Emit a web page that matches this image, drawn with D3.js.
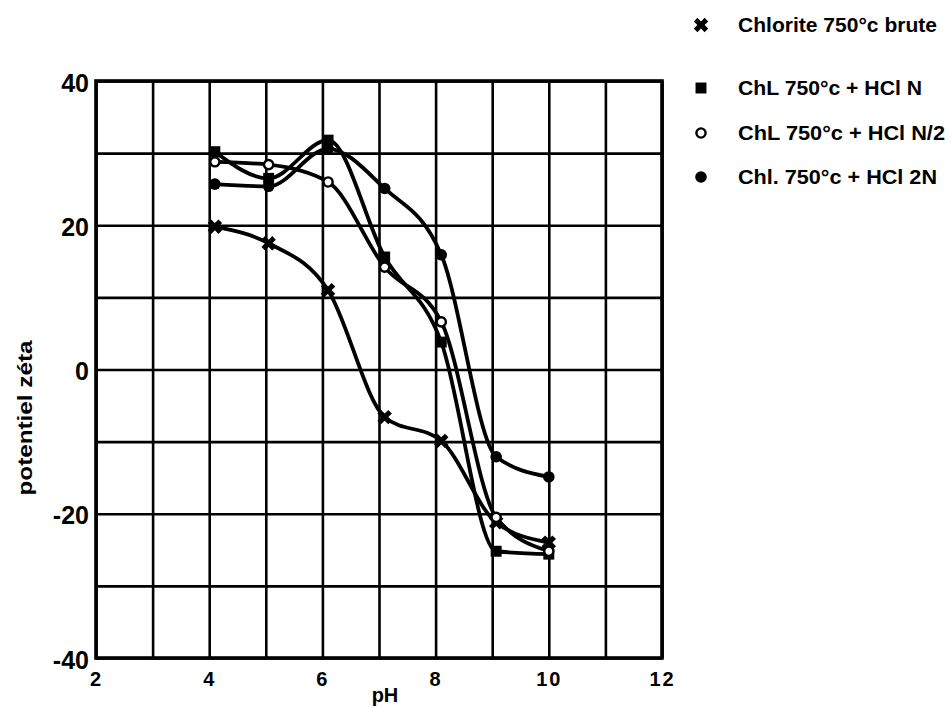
<!DOCTYPE html>
<html>
<head>
<meta charset="utf-8">
<script src="https://cdn.jsdelivr.net/npm/d3@7"></script>
<style>
  body { margin: 0; background: #fff; }
  svg { font-family: "Liberation Sans", Arial, sans-serif; }
</style>
</head>
<body>
<div class="chart"></div>
<script>
// pH values where zeta potential was measured
const phValues = [4.1, 5.05, 6.1, 7.1, 8.1, 9.07, 10.0];

// zeta potential, one array per sample
const bruteValues = [19.8, 17.5, 11, -6.6, -9.9, -21.2, -24];
const hclNValues = [30.2, 26.5, 31.8, 15.6, 3.8, -25.2, -25.6];
const hclN2Values = [28.8, 28.4, 26, 14.2, 6.6, -20.5, -25.2];
const hcl2NValues = [25.7, 25.4, 30.6, 25.1, 15.9, -12.1, -14.9];

const seriesNames = ['Chlorite 750°c brute', 'ChL 750°c + HCl N', 'ChL 750°c + HCl N/2', 'Chl. 750°c + HCl 2N'];
const seriesMarkers = ['cross', 'square', 'open', 'dot'];

const xTicks = [2, 3, 4, 5, 6, 7, 8, 9, 10, 11, 12];
const yTicks = [-40, -30, -20, -10, 0, 10, 20, 30, 40];

const allSeries = [bruteValues, hclNValues, hclN2Values, hcl2NValues].map(function(vals, i){
	return {
		name: seriesNames[i],
		marker: seriesMarkers[i],
		points: vals.map(function(v, j){ return {ph: phValues[j], zeta: v}; })
	};
});

let margin = {top: 81, right: 288, bottom: 50, left: 96};
let width = 950 - margin.left - margin.right;
let height = 708 - margin.top - margin.bottom;

let xScale = d3.scaleLinear().domain([2, 12]).range([0, width]);
let yScale = d3.scaleLinear().domain([-40, 40]).range([height, 0]);

let svg = d3.select('.chart').append('svg')
	.attr('width', 950)
	.attr('height', 708);

let g = svg.append('g')
	.attr('transform', 'translate(' + margin.left + ',' + margin.top + ')');

// grid + tick labels via axes
let xAxis = d3.axisBottom(xScale)
	.tickValues(xTicks)
	.tickSize(-height)
	.tickPadding(14)
	.tickFormat(function(d){ return d % 2 === 0 ? d : ''; });

let yAxis = d3.axisLeft(yScale)
	.tickValues(yTicks)
	.tickSize(-width)
	.tickPadding(7)
	.tickFormat(function(d){ return d % 20 === 0 ? d : ''; });

let gx = g.append('g')
	.attr('class', 'x axis')
	.attr('transform', 'translate(0,' + height + ')')
	.call(xAxis);

let gy = g.append('g')
	.attr('class', 'y axis')
	.call(yAxis);

[gx, gy].forEach(function(a){
	a.select('.domain').remove();
	a.selectAll('line').attr('stroke', '#000').attr('stroke-width', 2.6);
});

gx.selectAll('text')
	.attr('fill', '#000')
	.style('font-size', '20px')
	.style('font-weight', 'bold')
	.style('letter-spacing', '2px');

gy.selectAll('text')
	.attr('fill', '#000')
	.attr('dy', '0.4em')
	.style('font-size', '25px')
	.style('font-weight', 'bold');

// outer frame
g.append('rect')
	.attr('width', width)
	.attr('height', height)
	.attr('fill', 'none')
	.attr('stroke', '#000')
	.attr('stroke-width', 3.6);

// curves
let line = d3.line()
	.x(function(d){ return xScale(d.ph); })
	.y(function(d){ return yScale(d.zeta); })
	.curve(d3.curveMonotoneX);

g.selectAll('.curve')
	.data(allSeries).enter()
	.append('path')
	.attr('class', 'curve')
	.attr('d', function(d){ return line(d.points); })
	.attr('fill', 'none')
	.attr('stroke', '#000')
	.attr('stroke-width', 3.8)
	.attr('stroke-linejoin', 'round');

function drawMarker(sel, type){
	if (type === 'cross') {
		sel.append('path')
			.attr('d', d3.symbol().type(d3.symbolCross).size(130)())
			.attr('transform', 'rotate(45)')
			.attr('fill', '#000');
	} else if (type === 'square') {
		sel.append('path')
			.attr('d', d3.symbol().type(d3.symbolSquare).size(120)())
			.attr('fill', '#000');
	} else if (type === 'open') {
		sel.append('circle')
			.attr('r', 4.6)
			.attr('fill', '#fff')
			.attr('stroke', '#000')
			.attr('stroke-width', 2.4);
	} else {
		sel.append('circle')
			.attr('r', 5.8)
			.attr('fill', '#000');
	}
}

allSeries.forEach(function(s){
	g.selectAll('.m-' + s.marker)
		.data(s.points).enter()
		.append('g')
		.attr('class', 'm-' + s.marker)
		.attr('transform', function(d){
			return 'translate(' + xScale(d.ph) + ',' + yScale(d.zeta) + ')';
		})
		.each(function(){ drawMarker(d3.select(this), s.marker); });
});

// axis titles
svg.append('text')
	.attr('x', 385)
	.attr('y', 702)
	.attr('text-anchor', 'middle')
	.style('font-size', '20px')
	.style('font-weight', 'bold')
	.text('pH');

svg.append('text')
	.attr('transform', 'translate(32,418)rotate(-90)')
	.attr('text-anchor', 'middle')
	.attr('textLength', 155)
	.attr('lengthAdjust', 'spacingAndGlyphs')
	.style('font-size', '20px')
	.style('font-weight', 'bold')
	.text('potentiel  zéta');

// legend
const legendY = [25, 88, 133, 177];
const legendWidths = [199, 184, 207, 199];

let legend = svg.selectAll('.legend')
	.data(allSeries).enter()
	.append('g')
	.attr('class', 'legend')
	.attr('transform', function(d, i){ return 'translate(701,' + legendY[i] + ')'; });

legend.each(function(d){
	let item = d3.select(this);
	drawMarker(item.append('g'), d.marker);
	item.append('text')
		.attr('x', 37)
		.attr('dy', '0.36em')
		.attr('textLength', legendWidths[allSeries.indexOf(d)])
		.attr('lengthAdjust', 'spacingAndGlyphs')
		.style('font-size', '20px')
		.style('font-weight', 'bold')
		.text(d.name);
});
</script>
</body>
</html>
